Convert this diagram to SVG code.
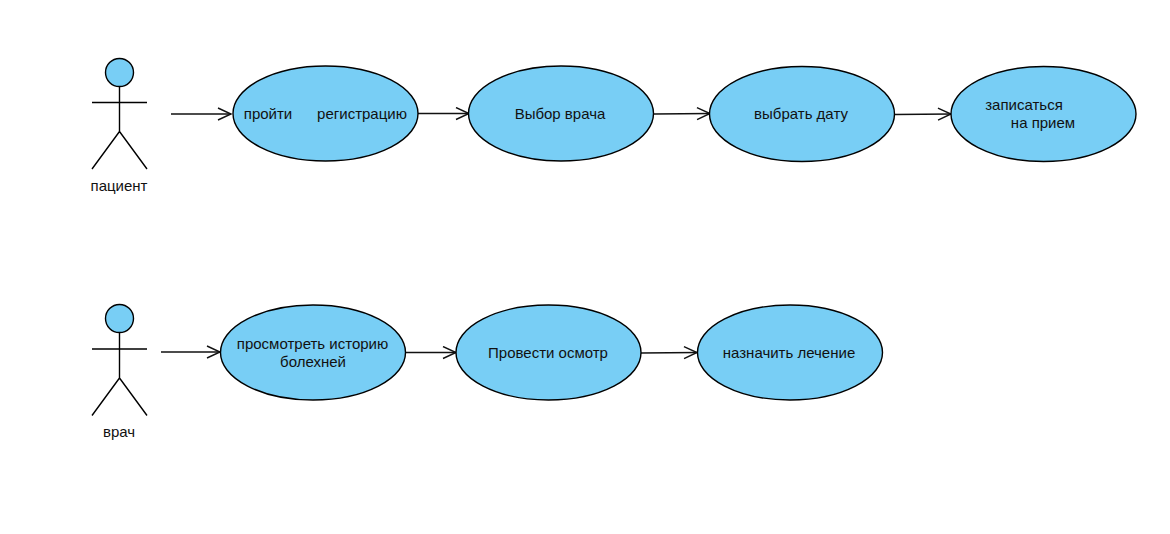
<svg xmlns="http://www.w3.org/2000/svg" width="1170" height="534" viewBox="0 0 1170 534">
<style>
text{font-family:"Liberation Sans",Arial,sans-serif;font-size:15px;fill:#111;text-anchor:middle}
.f{fill:#78cef5;stroke:#000;stroke-width:1.4}
.l{fill:none;stroke:#000;stroke-width:1.4}
.c{fill:none;stroke:#111;stroke-width:1.4;marker-end:url(#a)}
</style>
<defs><marker id="a" markerUnits="userSpaceOnUse" markerWidth="18" markerHeight="14" refX="16" refY="7" orient="auto"><path d="M3 1L16 7L3 13" fill="none" stroke="#111" stroke-width="1.4"/></marker></defs>
<rect width="1170" height="534" fill="#fff"/>
<g id="connectors">
<path class="c" d="M171 114H231"/>
<path class="c" d="M418 113.500H469"/>
<path class="c" d="M654 114L710 113.500"/>
<path class="c" d="M895 114.500L951 114"/>
<path class="c" d="M161 352H220"/>
<path class="c" d="M406 352.500H456"/>
<path class="c" d="M641 353L697 352.500"/>
</g>
<g id="actor-patient"><circle class="f" cx="119.500" cy="72.500" r="14"/><path class="l" d="M119.500 86.500V131.500M92 102.500H147M119.500 131.500L92 169M119.500 131.500L147 169"/><text x="119" y="191">пациент</text></g>
<g id="actor-doctor"><circle class="f" cx="119.500" cy="318.500" r="14"/><path class="l" d="M119.500 332.500V378M92 349H147M119.500 378L92 415.500M119.500 378L147 415.500"/><text x="119" y="437">врач</text></g>
<g id="uc1"><ellipse class="f" cx="325.500" cy="113.500" rx="92.500" ry="47.500"/><text x="268" y="119">пройти</text><text x="362" y="119">регистрацию</text></g>
<g id="uc2"><ellipse class="f" cx="561" cy="113.500" rx="92.500" ry="47.500"/><text x="560" y="119">Выбор врача</text></g>
<g id="uc3"><ellipse class="f" cx="802" cy="114" rx="92.500" ry="47.500"/><text x="801" y="119">выбрать дату</text></g>
<g id="uc4"><ellipse class="f" cx="1043.500" cy="114" rx="92.500" ry="47.500"/><text x="1024" y="110">записаться</text><text x="1043" y="128">на прием</text></g>
<g id="uc5"><ellipse class="f" cx="313" cy="352.500" rx="92.500" ry="47.500"/><text x="312.500" y="349">просмотреть историю</text><text x="313" y="367">болехней</text></g>
<g id="uc6"><ellipse class="f" cx="548.500" cy="352.500" rx="92.500" ry="47.500"/><text x="548" y="358">Провести осмотр</text></g>
<g id="uc7"><ellipse class="f" cx="790" cy="352.500" rx="92.500" ry="47.500"/><text x="789" y="358">назначить лечение</text></g>
</svg>
